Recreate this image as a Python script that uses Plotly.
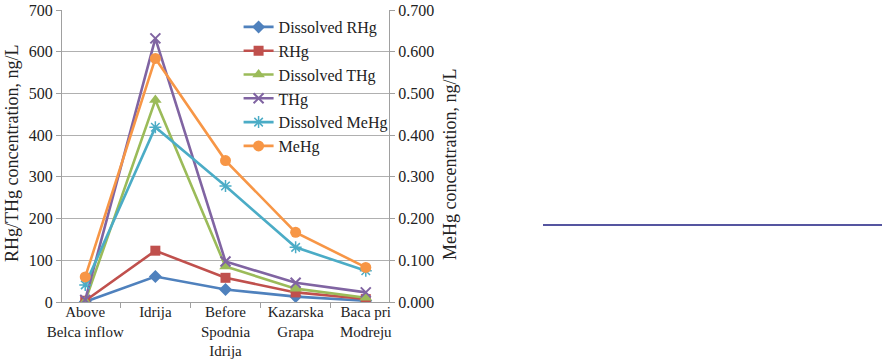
import plotly.graph_objects as go

categories = ["Above<br>Belca inflow", "Idrija", "Before<br>Spodnia<br>Idrija", "Kazarska<br>Grapa", "Baca pri<br>Modreju"]

dissolved_rhg = [0.5, 61, 30, 13, 3]
rhg = [3, 123, 58, 23, 7]
dissolved_thg = [2, 484, 85, 32, 10]
thg = [5, 632, 97, 46, 23]
dissolved_mehg = [0.041, 0.419, 0.278, 0.131, 0.075]
mehg = [0.060, 0.584, 0.339, 0.167, 0.083]

left_ticks = [0, 100, 200, 300, 400, 500, 600, 700]
right_ticks = [0.0, 0.1, 0.2, 0.3, 0.4, 0.5, 0.6, 0.7]

left_title = "RHg/THg concentration, ng/L"
right_title = "MeHg concentration, ng/L"

FONT = "Liberation Serif"
TXT = "#222"

fig = go.Figure()

def add(name, y, color, symbol, size, axis, lw=2.6, mlw=0):
    fig.add_trace(go.Scatter(
        x=categories, y=y, name=name, mode="lines+markers", yaxis=axis,
        line=dict(color=color, width=lw),
        marker=dict(symbol=symbol, size=size, color=color,
                    line=dict(color=color, width=mlw)),
    ))

add("Dissolved RHg", dissolved_rhg, "#4F81BD", "diamond", 10, "y")
add("RHg", rhg, "#C0504D", "square", 10, "y")
add("Dissolved THg", dissolved_thg, "#9BBB59", "triangle-up", 11, "y")
add("THg", thg, "#8064A2", "x-thin", 10, "y", mlw=2)
add("Dissolved MeHg", dissolved_mehg, "#4BACC6", "asterisk", 10, "y2", mlw=1.5)
add("MeHg", mehg, "#F79646", "circle", 11, "y2")

fig.update_layout(
    width=882, height=360,
    margin=dict(l=62, r=493, t=10, b=58),
    paper_bgcolor="white", plot_bgcolor="white",
    font=dict(family=FONT, size=15, color=TXT),
    showlegend=True,
    legend=dict(x=0.54, y=1.0, xanchor="left", yanchor="top",
                bgcolor="rgba(0,0,0,0)", font=dict(family=FONT, size=16, color=TXT),
                tracegroupgap=0, itemwidth=30),
    xaxis=dict(
        type="category", showgrid=False, showline=True, linecolor="#A0A0A0", linewidth=1,
        ticks="outside", ticklen=5, tickcolor="#A0A0A0", tickson="boundaries",
        tickangle=0, automargin=False, ticklabelstandoff=-4,
        tickfont=dict(family=FONT, size=15, color=TXT),
    ),
    yaxis=dict(
        range=[0, 700], tickvals=left_ticks, showgrid=True, gridcolor="#B0B0B0", gridwidth=1,
        showline=True, linecolor="#A0A0A0", linewidth=1, ticks="outside", ticklen=5,
        tickcolor="#A0A0A0", zeroline=False, automargin=False, ticklabeloverflow="allow",
        tickfont=dict(family=FONT, size=16, color=TXT),
    ),
    yaxis2=dict(
        range=[0, 0.7], tickvals=right_ticks, tickformat=".3f", overlaying="y", side="right",
        showgrid=False, showline=True, linecolor="#A0A0A0", linewidth=1, ticks="outside",
        ticklen=5, tickcolor="#A0A0A0", zeroline=False, automargin=False, ticklabeloverflow="allow",
        tickfont=dict(family=FONT, size=16, color=TXT),
    ),
    annotations=[
        dict(text=left_title, xref="paper", yref="paper", x=(12 - 62) / 327, y=(302 - 154) / 292,
             textangle=-90, showarrow=False, xanchor="center", yanchor="middle",
             font=dict(family=FONT, size=18, color=TXT)),
        dict(text=right_title, xref="paper", yref="paper", x=(450 - 62) / 327, y=(302 - 165) / 292,
             textangle=-90, showarrow=False, xanchor="center", yanchor="middle",
             font=dict(family=FONT, size=18, color=TXT)),
    ],
    shapes=[dict(type="line", xref="paper", yref="paper",
                 x0=(543 - 62) / 327, x1=(882 - 62) / 327,
                 y0=(302 - 225) / 292, y1=(302 - 225) / 292,
                 line=dict(color="#1C1C80", width=1.5))],
)

# remove the default 8px page margin so the 882x360 figure fills the window exactly
fig.write_html("out.html", config={"displayModeBar": False},
               post_script="document.body.style.margin='0';")
